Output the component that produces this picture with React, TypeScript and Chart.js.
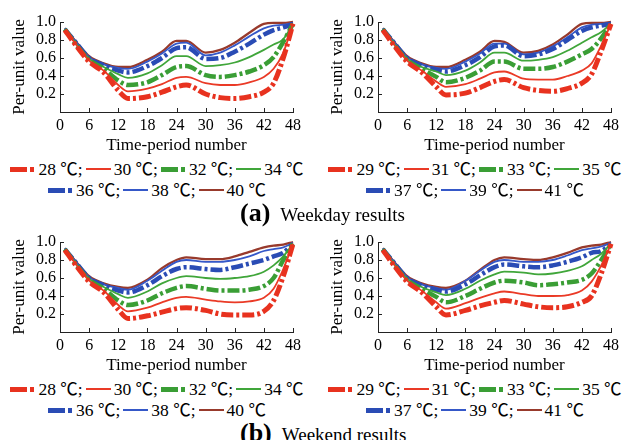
import React, { useEffect, useRef } from "react";
import { Chart, registerables } from "chart.js";

Chart.register(...registerables);

// Time-period sample points (x axis)
const periods = [1, 3, 6, 9, 12, 14, 18, 21, 24, 26, 30, 33, 36, 39, 42, 44, 46, 48];

// Axis ticks
const xTicks = [0, 6, 12, 18, 24, 30, 36, 42, 48];
const yTickLabels = ["0.2", "0.4", "0.6", "0.8", "1.0"];

// Temperatures (legend labels)
const tempsEven = [28, 30, 32, 34, 36, 38, 40];
const tempsOdd = [29, 31, 33, 35, 37, 39, 41];

// (a) Weekday, 28..40 °C
const wd28 = [0.91, 0.76, 0.56, 0.44, 0.24, 0.15, 0.17, 0.22, 0.28, 0.30, 0.20, 0.16, 0.15, 0.17, 0.22, 0.32, 0.60, 0.98];
const wd30 = [0.91, 0.77, 0.57, 0.46, 0.30, 0.23, 0.26, 0.31, 0.38, 0.39, 0.32, 0.30, 0.30, 0.33, 0.39, 0.48, 0.66, 0.98];
const wd32 = [0.92, 0.77, 0.58, 0.48, 0.35, 0.30, 0.33, 0.41, 0.50, 0.51, 0.41, 0.39, 0.41, 0.45, 0.52, 0.61, 0.78, 0.98];
const wd34 = [0.92, 0.78, 0.59, 0.50, 0.42, 0.38, 0.43, 0.52, 0.62, 0.62, 0.51, 0.52, 0.55, 0.61, 0.69, 0.75, 0.81, 0.98];
const wd36 = [0.92, 0.79, 0.60, 0.52, 0.46, 0.44, 0.51, 0.60, 0.71, 0.72, 0.59, 0.60, 0.67, 0.76, 0.86, 0.91, 0.94, 0.98];
const wd38 = [0.93, 0.80, 0.61, 0.53, 0.49, 0.48, 0.56, 0.65, 0.76, 0.77, 0.63, 0.66, 0.74, 0.84, 0.93, 0.96, 0.97, 0.99];
const wd40 = [0.93, 0.80, 0.62, 0.54, 0.50, 0.50, 0.58, 0.67, 0.79, 0.79, 0.66, 0.69, 0.77, 0.88, 0.98, 0.99, 0.99, 1.0];

// (a) Weekday, 29..41 °C
const wd29 = [0.91, 0.76, 0.56, 0.44, 0.28, 0.19, 0.21, 0.27, 0.34, 0.36, 0.27, 0.24, 0.23, 0.26, 0.32, 0.42, 0.68, 0.98];
const wd31 = [0.91, 0.77, 0.57, 0.46, 0.34, 0.28, 0.31, 0.37, 0.44, 0.45, 0.37, 0.36, 0.36, 0.40, 0.46, 0.54, 0.74, 0.98];
const wd33 = [0.92, 0.77, 0.58, 0.48, 0.39, 0.33, 0.38, 0.46, 0.56, 0.56, 0.48, 0.48, 0.50, 0.56, 0.64, 0.70, 0.82, 0.98];
const wd35 = [0.92, 0.78, 0.59, 0.50, 0.45, 0.41, 0.46, 0.55, 0.66, 0.66, 0.57, 0.58, 0.61, 0.68, 0.77, 0.83, 0.89, 0.98];
const wd37 = [0.92, 0.79, 0.60, 0.52, 0.47, 0.45, 0.52, 0.61, 0.73, 0.74, 0.62, 0.64, 0.70, 0.80, 0.90, 0.94, 0.96, 0.98];
const wd39 = [0.93, 0.80, 0.61, 0.53, 0.49, 0.48, 0.56, 0.65, 0.76, 0.76, 0.64, 0.66, 0.73, 0.83, 0.94, 0.97, 0.98, 0.99];
const wd41 = [0.93, 0.80, 0.62, 0.54, 0.50, 0.50, 0.58, 0.67, 0.79, 0.78, 0.66, 0.68, 0.75, 0.86, 0.98, 0.99, 0.99, 1.0];

// (b) Weekend, 28..40 °C
const we28 = [0.91, 0.76, 0.56, 0.44, 0.25, 0.15, 0.18, 0.22, 0.26, 0.27, 0.24, 0.20, 0.19, 0.19, 0.23, 0.35, 0.62, 0.98];
const we30 = [0.91, 0.77, 0.57, 0.46, 0.30, 0.23, 0.27, 0.33, 0.38, 0.39, 0.36, 0.34, 0.33, 0.34, 0.38, 0.48, 0.70, 0.98];
const we32 = [0.92, 0.77, 0.58, 0.48, 0.35, 0.30, 0.35, 0.43, 0.49, 0.51, 0.48, 0.46, 0.46, 0.47, 0.51, 0.60, 0.80, 0.98];
const we34 = [0.92, 0.78, 0.59, 0.50, 0.42, 0.38, 0.45, 0.54, 0.60, 0.62, 0.60, 0.59, 0.60, 0.62, 0.67, 0.74, 0.84, 0.98];
const we36 = [0.92, 0.79, 0.60, 0.52, 0.46, 0.44, 0.52, 0.62, 0.70, 0.72, 0.70, 0.69, 0.72, 0.76, 0.80, 0.84, 0.88, 0.98];
const we38 = [0.93, 0.80, 0.61, 0.53, 0.49, 0.47, 0.57, 0.68, 0.78, 0.80, 0.78, 0.78, 0.80, 0.84, 0.90, 0.92, 0.94, 0.99];
const we40 = [0.93, 0.80, 0.62, 0.54, 0.50, 0.49, 0.58, 0.71, 0.80, 0.83, 0.81, 0.81, 0.84, 0.89, 0.94, 0.96, 0.97, 1.0];

// (b) Weekend, 29..41 °C
const we29 = [0.91, 0.76, 0.56, 0.44, 0.28, 0.19, 0.24, 0.29, 0.33, 0.35, 0.31, 0.28, 0.27, 0.28, 0.33, 0.40, 0.65, 0.98];
const we31 = [0.91, 0.77, 0.57, 0.46, 0.33, 0.26, 0.32, 0.38, 0.43, 0.45, 0.42, 0.40, 0.40, 0.41, 0.46, 0.56, 0.74, 0.98];
const we33 = [0.92, 0.77, 0.58, 0.48, 0.39, 0.33, 0.40, 0.48, 0.55, 0.57, 0.55, 0.52, 0.53, 0.55, 0.58, 0.65, 0.80, 0.98];
const we35 = [0.92, 0.78, 0.59, 0.50, 0.44, 0.41, 0.48, 0.57, 0.64, 0.67, 0.66, 0.64, 0.65, 0.68, 0.73, 0.80, 0.87, 0.98];
const we37 = [0.92, 0.79, 0.60, 0.52, 0.47, 0.45, 0.53, 0.63, 0.72, 0.75, 0.73, 0.72, 0.74, 0.78, 0.83, 0.88, 0.90, 0.98];
const we39 = [0.93, 0.80, 0.61, 0.53, 0.49, 0.47, 0.57, 0.68, 0.78, 0.80, 0.78, 0.78, 0.80, 0.85, 0.91, 0.93, 0.95, 0.99];
const we41 = [0.93, 0.80, 0.62, 0.54, 0.50, 0.49, 0.57, 0.69, 0.80, 0.83, 0.81, 0.80, 0.83, 0.88, 0.94, 0.96, 0.97, 1.0];

const CANVAS_FONT = '"Liberation Serif", serif';
const FONT = '"Liberation Serif", "Noto Sans CJK SC", serif';
const INK = "#000";

type Style = { color: string; width: number; dashed: boolean };
const STYLES: Style[] = [
  { color: "#e8321f", width: 5, dashed: true },
  { color: "#ea3a26", width: 1.8, dashed: false },
  { color: "#3a9e35", width: 4.5, dashed: true },
  { color: "#40a63a", width: 1.8, dashed: false },
  { color: "#2a4cb5", width: 4.5, dashed: true },
  { color: "#3558c8", width: 1.8, dashed: false },
  { color: "#983a2c", width: 2.3, dashed: false },
];

const innerTicks = {
  id: "innerTicks",
  afterDraw(chart: any) {
    const { ctx, chartArea, scales } = chart;
    ctx.save();
    ctx.strokeStyle = "#222";
    ctx.lineWidth = 1;
    ctx.setLineDash([]);
    ctx.beginPath();
    scales.x.ticks.forEach((t: any) => {
      if (t.value === 0) return;
      const px = Math.round(scales.x.getPixelForValue(t.value)) + 0.5;
      ctx.moveTo(px, chartArea.bottom);
      ctx.lineTo(px, chartArea.bottom - 4);
    });
    scales.y.ticks.forEach((t: any) => {
      if (t.value === 0) return;
      const py = Math.round(scales.y.getPixelForValue(t.value)) + 0.5;
      ctx.moveTo(chartArea.left, py);
      ctx.lineTo(chartArea.left + 4, py);
    });
    ctx.stroke();
    ctx.restore();
  },
};

function Panel({ series, left, top }: { series: number[][]; left: number; top: number }) {
  const ref = useRef<HTMLCanvasElement>(null);
  useEffect(() => {
    if (!ref.current) return;
    const datasets = series.map((vals, i) => ({
      data: vals.map((v, k) => ({ x: periods[k], y: v })),
      borderColor: STYLES[i].color,
      borderWidth: STYLES[i].width,
      borderDash: STYLES[i].dashed ? [12, 3, 3, 3] : [],
      pointRadius: 0,
      fill: false,
      cubicInterpolationMode: "monotone" as const,
      clip: false as any,
    }));
    const chart = new Chart(ref.current, {
      type: "line",
      data: { datasets },
      options: {
        animation: false,
        responsive: false,
        devicePixelRatio: 1,
        layout: { padding: { top: 22, right: 12, left: 0, bottom: 0 } },
        plugins: { legend: { display: false }, tooltip: { enabled: false } },
        scales: {
          x: {
            type: "linear",
            min: 0,
            max: 48,
            afterBuildTicks: (s: any) => {
              s.ticks = xTicks.map((v) => ({ value: v }));
            },
            ticks: {
              color: INK,
              font: { family: CANVAS_FONT, size: 16 },
              padding: 4,
              maxRotation: 0,
              autoSkip: false,
              callback: (v: any) => String(v),
            },
            grid: { display: true, drawOnChartArea: false, drawTicks: false },
            border: { display: true, color: "#222", width: 1 },
            title: {
              display: true,
              text: "Time-period number",
              color: INK,
              font: { family: CANVAS_FONT, size: 17 },
              padding: { top: 0, bottom: 0 },
            },
            afterFit: (s: any) => {
              s.height = 44;
            },
          },
          y: {
            type: "linear",
            min: 0,
            max: 1,
            afterBuildTicks: (s: any) => {
              s.ticks = [0, ...yTickLabels.map(Number)].map((v) => ({ value: v }));
            },
            ticks: {
              color: INK,
              font: { family: CANVAS_FONT, size: 16 },
              padding: 4,
              autoSkip: false,
              callback: (v: any) => (Number(v) === 0 ? "" : Number(v).toFixed(1)),
            },
            grid: { display: true, drawOnChartArea: false, drawTicks: false },
            border: { display: true, color: "#222", width: 1 },
            title: {
              display: true,
              text: "Per-unit value",
              color: INK,
              font: { family: CANVAS_FONT, size: 17 },
              padding: { top: 9, bottom: 0 },
            },
            afterFit: (s: any) => {
              s.width = 60;
            },
          },
        },
      },
      plugins: [innerTicks],
    });
    return () => chart.destroy();
  }, [series]);
  return (
    <canvas
      ref={ref}
      width={305}
      height={156}
      style={{ position: "absolute", left, top, width: 305, height: 156 }}
    />
  );
}

function Sample({ style }: { style: Style }) {
  if (style.dashed) {
    return (
      <span style={{ display: "inline-flex", alignItems: "center", width: 25 }}>
        <span style={{ display: "inline-block", width: 17, height: 5, background: style.color }} />
        <span style={{ display: "inline-block", width: 3 }} />
        <span style={{ display: "inline-block", width: 4, height: 5, background: style.color }} />
      </span>
    );
  }
  return (
    <span style={{ display: "inline-flex", alignItems: "center", width: 25 }}>
      <span style={{ display: "inline-block", width: 25, height: 2, background: style.color }} />
    </span>
  );
}

function LegendRow({ temps, idx, centerX, top }: { temps: number[]; idx: number[]; centerX: number; top: number }) {
  return (
    <div
      style={{
        position: "absolute",
        left: centerX - 200,
        top,
        width: 400,
        height: 20,
        display: "flex",
        justifyContent: "center",
        alignItems: "center",
        whiteSpace: "nowrap",
        fontFamily: FONT,
        fontSize: 17.5,
        lineHeight: "20px",
        color: INK,
      }}
    >
      {idx.map((i, k) => (
        <span key={i} style={{ display: "inline-flex", alignItems: "center", marginLeft: k === 0 ? 0 : 3 }}>
          <Sample style={STYLES[i]} />
          <span style={{ marginLeft: 3 }}>
            {temps[i]} ℃{k === idx.length - 1 ? "" : ";"}
          </span>
        </span>
      ))}
    </div>
  );
}

function Caption({ tag, text, top }: { tag: string; text: string; top: number }) {
  return (
    <div
      style={{
        position: "absolute",
        left: 240,
        top,
        whiteSpace: "nowrap",
        fontFamily: FONT,
        color: INK,
        lineHeight: "26px",
      }}
    >
      <span style={{ fontWeight: "bold", fontSize: 26 }}>{tag}</span>
      <span style={{ fontSize: 19, marginLeft: 10 }}>{text}</span>
    </div>
  );
}

export default function App() {
  const row1 = [0, 1, 2, 3];
  const row2 = [4, 5, 6];
  return (
    <div style={{ position: "absolute", left: 0, top: 0, width: 627, height: 440, background: "#fff", overflow: "hidden" }}>
      <Panel series={[wd28, wd30, wd32, wd34, wd36, wd38, wd40]} left={0} top={0} />
      <Panel series={[wd29, wd31, wd33, wd35, wd37, wd39, wd41]} left={318} top={0} />
      <Panel series={[we28, we30, we32, we34, we36, we38, we40]} left={0} top={220} />
      <Panel series={[we29, we31, we33, we35, we37, we39, we41]} left={318} top={220} />

      <LegendRow temps={tempsEven} idx={row1} centerX={157} top={159} />
      <LegendRow temps={tempsEven} idx={row2} centerX={157} top={180} />
      <LegendRow temps={tempsOdd} idx={row1} centerX={475} top={159} />
      <LegendRow temps={tempsOdd} idx={row2} centerX={475} top={180} />
      <Caption tag="(a)" text="Weekday results" top={200} />

      <LegendRow temps={tempsEven} idx={row1} centerX={157} top={379} />
      <LegendRow temps={tempsEven} idx={row2} centerX={157} top={400} />
      <LegendRow temps={tempsOdd} idx={row1} centerX={475} top={379} />
      <LegendRow temps={tempsOdd} idx={row2} centerX={475} top={400} />
      <Caption tag="(b)" text="Weekend results" top={420} />
    </div>
  );
}
